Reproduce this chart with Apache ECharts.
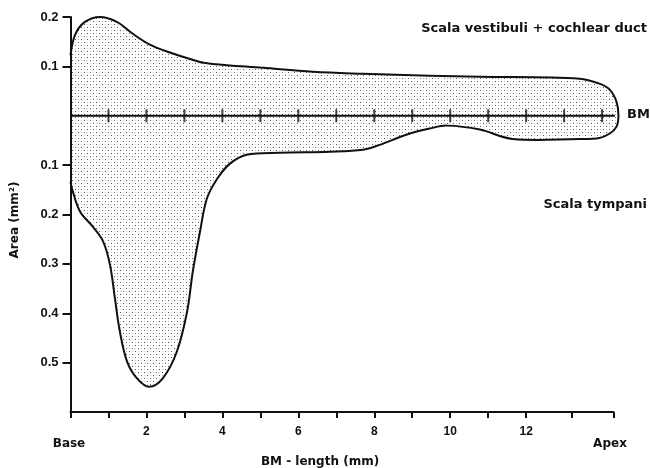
<!DOCTYPE html>
<html>
<head>
<meta charset="utf-8">
<script src="https://cdn.jsdelivr.net/npm/echarts@6/dist/echarts.min.js"></script>
<style>
  html, body { margin: 0; padding: 0; background: #fff; }
  #main { width: 650px; height: 468px; }
</style>
</head>
<body>
<div id="main"></div>
<script>
// outline of the scala vestibuli + cochlear duct (above BM), base -> apex
const upperX = [0.0, 0.12, 0.38, 0.78, 1.22, 1.64, 2.09, 2.54, 3.41, 3.75, 5.07, 6.38, 7.7, 9.46, 10.78, 13.41, 13.93, 14.2, 14.38, 14.43];
const upperY = [0.123, 0.164, 0.19, 0.2, 0.19, 0.166, 0.144, 0.13, 0.109, 0.105, 0.097, 0.089, 0.085, 0.081, 0.079, 0.075, 0.065, 0.053, 0.028, 0.0];
// outline of the scala tympani (below BM), apex -> base
const lowerX = [14.38, 14.2, 13.93, 13.41, 11.64, 10.78, 9.91, 9.46, 8.86, 8.14, 7.7, 6.83, 5.51, 4.64, 4.2, 3.86, 3.59, 3.41, 3.22, 3.07, 2.8, 2.43, 2.07, 1.75, 1.49, 1.3, 1.17, 1.04, 0.86, 0.59, 0.25, 0.04, 0.0];
const lowerY = [-0.022, -0.036, -0.045, -0.047, -0.047, -0.028, -0.02, -0.026, -0.038, -0.059, -0.069, -0.073, -0.075, -0.079, -0.097, -0.128, -0.168, -0.235, -0.316, -0.397, -0.478, -0.532, -0.549, -0.532, -0.498, -0.437, -0.37, -0.302, -0.255, -0.225, -0.194, -0.148, -0.134];

const bmTicks = [1, 2, 3, 4, 5, 6, 7, 8, 9, 10, 11, 12, 13, 14];
const xTicks = [0, 1, 2, 3, 4, 5, 6, 7, 8, 9, 10, 11, 12, 13.2, 14.3];
const xLabels = [2, 4, 6, 8, 10, 12];
const yTicks = [0.2, 0.1, -0.1, -0.2, -0.3, -0.4, -0.5];

const FONT = "'Liberation Sans', Arial, sans-serif";
const WIDE = "'DejaVu Sans', sans-serif";
const INK = '#111';

// stipple pattern
const tile = document.createElement('canvas');
tile.width = 6; tile.height = 6;
const tc = tile.getContext('2d');
tc.fillStyle = '#fff'; tc.fillRect(0, 0, 6, 6);
tc.fillStyle = '#555'; tc.fillRect(0, 0, 1, 1); tc.fillRect(3, 3, 1, 1);
tc.fillStyle = '#c8c8c8'; tc.fillRect(3, 0, 1, 1); tc.fillRect(0, 3, 1, 1);
const stipple = { image: tile, repeat: 'repeat' };

const chart = echarts.init(document.getElementById('main'));

function txt(text, x, y, align, size, extra) {
  return Object.assign({
    type: 'text', x: x, y: y, z: 10,
    style: { text: text, fill: INK, font: 'bold ' + size + 'px ' + WIDE, align: align, verticalAlign: 'middle' }
  }, extra || {});
}

chart.setOption({
  animation: false,
  backgroundColor: '#fff',
  grid: { left: 70.5, top: 17, width: 543, height: 395 },
  xAxis: {
    type: 'value', min: 0, max: 14.3, interval: 1, z: 5,
    axisLine: { show: true, onZero: false, lineStyle: { color: INK, width: 2 } },
    axisTick: { show: true, length: 6, customValues: xTicks, lineStyle: { color: INK, width: 2 } },
    axisLabel: { customValues: xLabels, margin: 14, color: INK, fontWeight: 'bold', fontSize: 12, fontFamily: FONT },
    splitLine: { show: false }
  },
  yAxis: {
    type: 'value', min: -0.6, max: 0.2, interval: 0.1, z: 5,
    axisLine: { show: true, onZero: false, lineStyle: { color: INK, width: 2 } },
    axisTick: { show: true, length: 8, customValues: yTicks, lineStyle: { color: INK, width: 2 } },
    axisLabel: {
      customValues: yTicks, margin: 12, color: INK, fontWeight: 'bold', fontSize: 13, fontFamily: FONT,
      formatter: v => Math.abs(v).toFixed(1)
    },
    splitLine: { show: false }
  },
  graphic: [
    txt('Scala vestibuli + cochlear duct', 647, 29, 'right', 13),
    txt('BM', 627, 115, 'left', 13),
    txt('Scala tympani', 647, 205, 'right', 13),
    txt('Base', 69, 444, 'center', 12),
    txt('Apex', 610, 444, 'center', 12),
    txt('BM - length (mm)', 320, 462, 'center', 12),
    txt('Area (mm²)', 15, 220, 'center', 12, { rotation: Math.PI / 2 })
  ],
  series: [
    {
      type: 'custom',
      z: 1,
      data: [[0, 0]],
      renderItem: function (params, api) {
        const outline = [];
        upperX.forEach((x, i) => outline.push(api.coord([x, upperY[i]])));
        lowerX.forEach((x, i) => outline.push(api.coord([x, lowerY[i]])));
        const fillPts = outline.concat([api.coord([0, -0.05]), api.coord([0, 0.05])]);
        return {
          type: 'group',
          children: [
            { type: 'polygon', shape: { points: fillPts, smooth: 0.35 }, style: { fill: stipple, stroke: null } },
            { type: 'polyline', shape: { points: outline, smooth: 0.35 }, style: { fill: null, stroke: INK, lineWidth: 2 } }
          ]
        };
      }
    },
    {
      type: 'line',
      z: 3,
      data: [[0, 0], [14.35, 0]],
      symbol: 'none',
      lineStyle: { color: INK, width: 2 }
    },
    {
      type: 'scatter',
      z: 4,
      data: bmTicks.map(x => [x, 0]),
      symbol: 'rect',
      symbolSize: [2, 13],
      itemStyle: { color: INK }
    }
  ]
});
</script>
</body>
</html>
